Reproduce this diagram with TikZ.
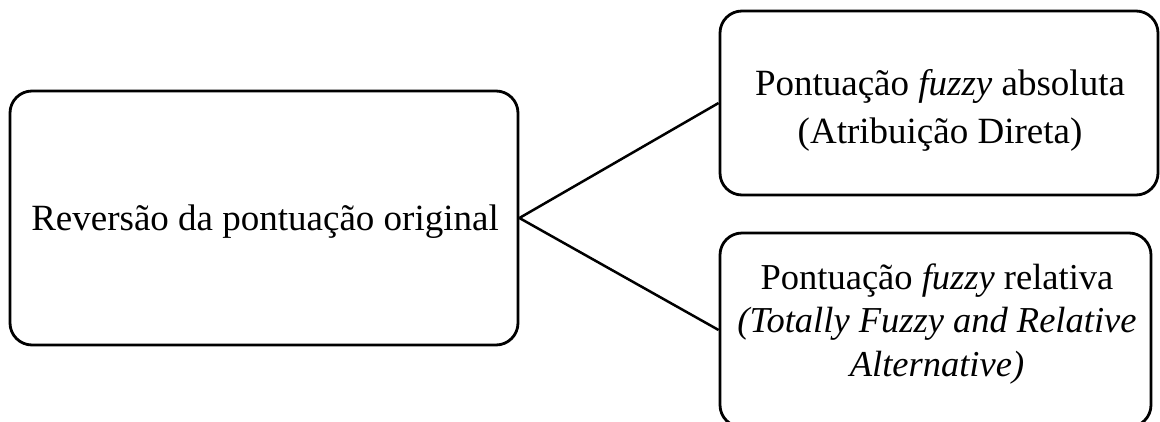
\documentclass[tikz,border=0pt]{standalone}
\usepackage{fontspec}
\setmainfont{Liberation Serif}
\begin{document}
\begin{tikzpicture}[x=1pt,y=-1pt,
  box/.style={draw=black, line width=2.8pt, rounded corners=22pt, inner sep=0pt},
  link/.style={draw=black, line width=2.5pt},
  label text/.style={align=center, inner sep=0pt}]
\clip (0,0) rectangle (1160,421);
% outline boxes
\node[box, minimum width=508pt, minimum height=254pt] (rev) at (264,218) {};
\node[box, minimum width=438pt, minimum height=184pt] (abs) at (939,103) {};
\node[box, minimum width=431pt, minimum height=194pt] (rel) at (935.5,330) {};
% box texts
\node[label text, font=\fontsize{37}{44}\selectfont] (revtxt) at (265,222)
  {Reversão da pontuação original};
\node[label text, font=\fontsize{37}{48}\selectfont] (abstxt) at (940,110)
  {Pontuação \textit{fuzzy} absoluta\\(Atribuição Direta)};
\node[label text, font=\fontsize{36.5}{43.5}\selectfont] (reltxt) at (937,324)
  {Pontuação \textit{fuzzy} relativa\\\textit{(Totally Fuzzy and Relative}\\\textit{Alternative)}};
% connectors
\draw[link] (rev.east) -- (abs.west);
\draw[link] (rev.east) -- (rel.west);
\end{tikzpicture}
\end{document}
